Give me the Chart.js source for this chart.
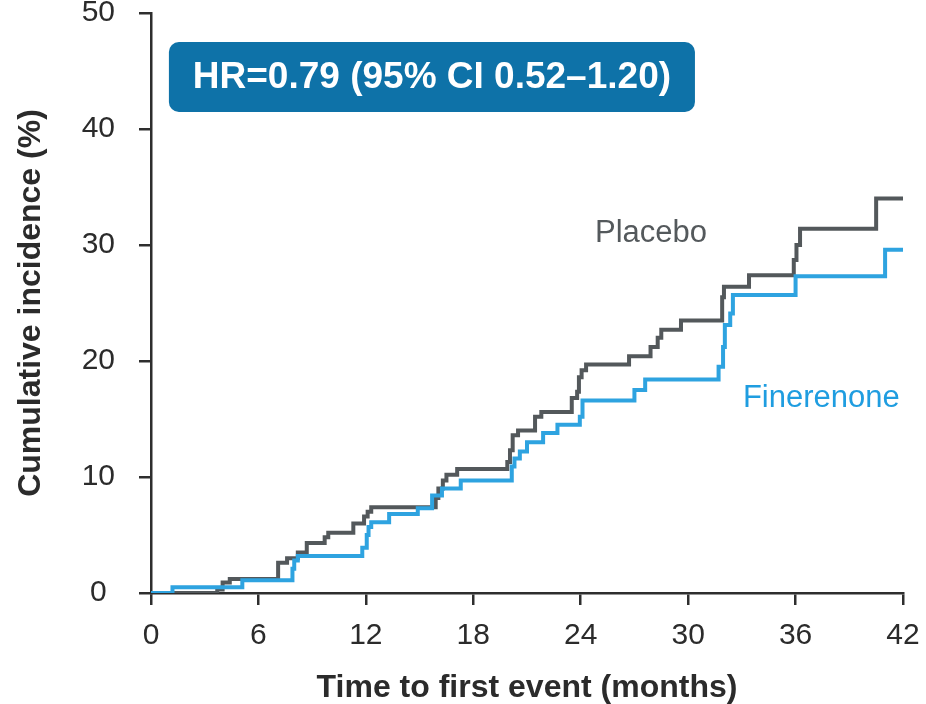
<!DOCTYPE html>
<html lang="en">
<head>
<meta charset="UTF-8">
<title>Cumulative incidence - Finerenone vs Placebo</title>
<style>
  body { margin: 0; background: #ffffff; }
  #wrap { width: 926px; height: 704px; }
</style>
</head>
<body>
<div id="wrap"><canvas id="kmChart" width="926" height="704"></canvas></div>
<script src="https://cdn.jsdelivr.net/npm/chart.js@4/dist/chart.umd.min.js"></script>
<script>
// values (months, cumulative incidence %)
const placeboMonths = [0, 3.7, 4.0, 4.4, 7.1, 7.6, 8.2, 8.7, 9.7, 9.9, 11.3, 11.9, 12.1, 12.3, 15.9, 16.05, 16.3, 16.5, 17.1, 19.9, 20.05, 20.2, 20.5, 21.45, 21.8, 23.5, 23.8, 23.9, 24.05, 24.3, 26.7, 27.9, 28.3, 28.5, 29.6, 31.9, 32.0, 33.4, 35.9, 36.05, 36.25, 40.5, 42];
const placeboPct = [0, 0.3, 0.9, 1.2, 2.6, 3.0, 3.5, 4.3, 4.8, 5.2, 6.0, 6.6, 7.0, 7.4, 8.2, 9.0, 9.7, 10.2, 10.7, 11.3, 12.3, 13.6, 14.0, 15.2, 15.6, 16.8, 17.35, 18.6, 19.2, 19.7, 20.4, 21.2, 22.0, 22.7, 23.5, 25.5, 26.4, 27.4, 28.7, 30.0, 31.4, 34.0, 34.0];

const finerenoneMonths = [0, 1.2, 5.1, 7.9, 8.0, 8.2, 11.8, 12.05, 12.15, 12.3, 13.3, 14.9, 15.7, 16.25, 17.3, 20.15, 20.3, 20.6, 21.0, 21.9, 22.7, 23.95, 24.1, 27.0, 27.6, 31.7, 31.95, 32.05, 32.35, 32.5, 36.0, 41.0, 42];
const finerenonePct = [0, 0.5, 1.1, 2.1, 2.8, 3.2, 3.9, 5.0, 5.7, 6.1, 6.8, 7.3, 8.4, 9.0, 9.7, 10.9, 11.6, 12.2, 13.0, 13.8, 14.5, 15.2, 16.6, 17.5, 18.4, 19.5, 21.2, 23.1, 24.1, 25.7, 27.3, 29.6, 29.6];

const xTickValues = [0, 6, 12, 18, 24, 30, 36, 42];
const yTickValues = [0, 10, 20, 30, 40, 50];

const hrText = 'HR=0.79 (95% CI 0.52\u20131.20)';
const FONT = "'Liberation Sans', Arial, Helvetica, sans-serif";
const AXIS = '#2e2e2e';
const GREY = '#53585b';
const BLUE = '#2ea3e0';

function toPoints(xs, ys) {
  return xs.map((x, i) => ({ x: x, y: ys[i] }));
}

// HR box and curve labels, placed in data units
const labelsPlugin = {
  id: 'kmLabels',
  afterDraw(chart) {
    const ctx = chart.ctx;
    const xs = chart.scales.x, ys = chart.scales.y;
    ctx.save();

    const bx0 = xs.getPixelForValue(1.0), bx1 = xs.getPixelForValue(30.38);
    const by0 = ys.getPixelForValue(47.5), by1 = ys.getPixelForValue(41.47);
    ctx.fillStyle = '#0e72a8';
    ctx.beginPath();
    ctx.roundRect(bx0, by0, bx1 - bx0, by1 - by0, 10);
    ctx.fill();
    ctx.fillStyle = '#ffffff';
    ctx.font = 'bold 37px ' + FONT;
    ctx.textAlign = 'center';
    ctx.textBaseline = 'middle';
    ctx.fillText(hrText, (bx0 + bx1) / 2, (by0 + by1) / 2 + 1);

    ctx.textAlign = 'left';
    ctx.textBaseline = 'alphabetic';
    ctx.font = '31px ' + FONT;
    ctx.fillStyle = '#54595c';
    ctx.fillText('Placebo', xs.getPixelForValue(24.8), ys.getPixelForValue(30.26));
    ctx.fillStyle = '#1f9de0';
    ctx.fillText('Finerenone', xs.getPixelForValue(33.06), ys.getPixelForValue(16.03));
    ctx.restore();
  }
};

new Chart(document.getElementById('kmChart'), {
  type: 'line',
  data: {
    datasets: [
      { label: 'Finerenone', data: toPoints(finerenoneMonths, finerenonePct), borderColor: BLUE, borderWidth: 4, stepped: true, pointRadius: 0, fill: false },
      { label: 'Placebo', data: toPoints(placeboMonths, placeboPct), borderColor: GREY, borderWidth: 4, stepped: true, pointRadius: 0, fill: false }
    ]
  },
  options: {
    responsive: false,
    devicePixelRatio: 1,
    animation: false,
    layout: { padding: { top: 13, right: 23, bottom: 0, left: 0 } },
    plugins: { legend: { display: false }, tooltip: { enabled: false } },
    scales: {
      x: {
        type: 'linear', min: 0, max: 42,
        afterBuildTicks: s => { s.ticks = xTickValues.map(v => ({ value: v })); },
        afterFit: s => { s.height = 111; s.paddingLeft = 0; s.paddingRight = 0; },
        ticks: { autoSkip: false, maxRotation: 0, padding: 13, color: '#2b2b2b', font: { family: FONT, size: 30 } },
        grid: { drawOnChartArea: false, tickLength: 12, lineWidth: 2.5, color: AXIS },
        border: { color: AXIS, width: 2.5 },
        title: { display: true, text: 'Time to first event (months)', color: '#2b2b2b', padding: 0, font: { family: FONT, size: 32, weight: 'bold', lineHeight: 1 } }
      },
      y: {
        type: 'linear', min: 0, max: 50,
        afterBuildTicks: s => { s.ticks = yTickValues.map(v => ({ value: v })); },
        afterFit: s => { s.width = 151; s.paddingTop = 0; s.paddingBottom = 0; },
        ticks: { padding: 24, crossAlign: 'center', color: '#2b2b2b', font: { family: FONT, size: 30 } },
        grid: { drawOnChartArea: false, tickLength: 12, lineWidth: 2.5, color: AXIS },
        border: { color: AXIS, width: 2.5 },
        title: { display: true, text: 'Cumulative incidence (%)', color: '#2b2b2b', padding: { top: 15, bottom: 0 }, font: { family: FONT, size: 32, weight: 'bold', lineHeight: 1 } }
      }
    }
  },
  plugins: [labelsPlugin]
});
</script>
</body>
</html>
